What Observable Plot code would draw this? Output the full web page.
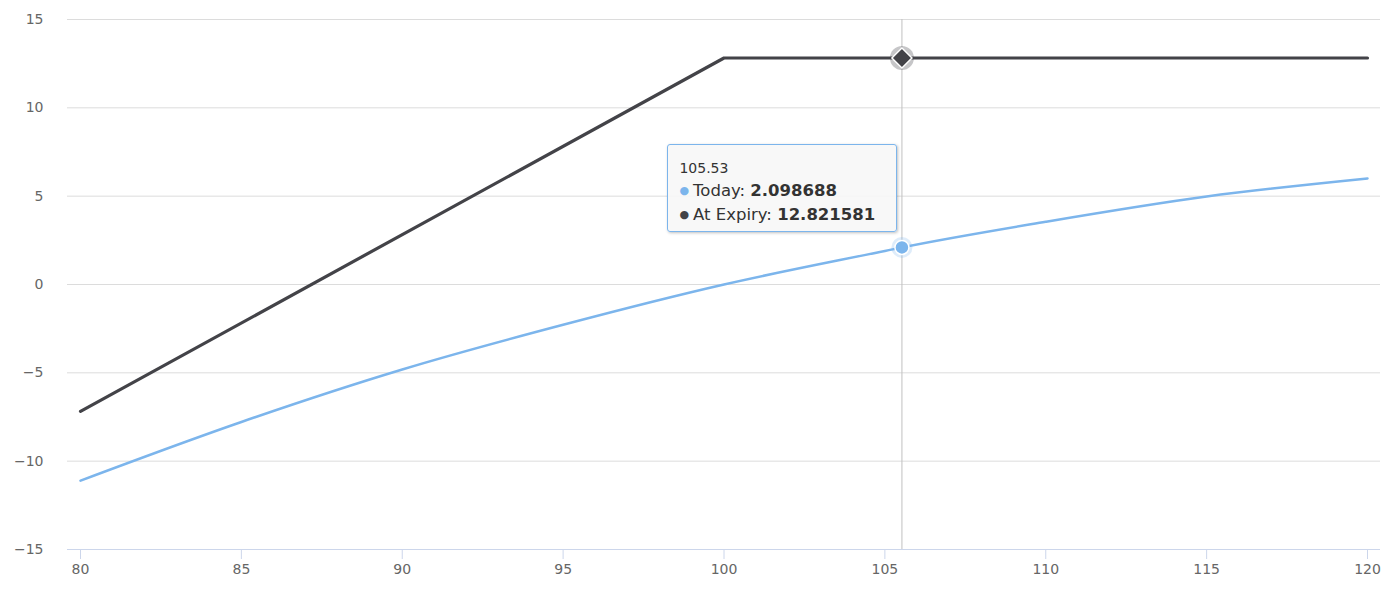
<!DOCTYPE html>
<html>
<head>
<meta charset="utf-8">
<script src="https://cdn.jsdelivr.net/npm/d3@7"></script>
<script src="https://cdn.jsdelivr.net/npm/@observablehq/plot@0.6"></script>
<style>
  html, body { margin: 0; padding: 0; background: #fff; }
  #wrap { position: relative; width: 1392px; height: 600px; font-family: "DejaVu Sans", sans-serif; }
  #tip {
    position: absolute; box-sizing: border-box; width: 230px; height: 88px;
    background: rgba(247,247,247,0.9); border: 1px solid #7cb5ec; border-radius: 3px;
    box-shadow: 1px 1px 3px rgba(0,0,0,0.25);
    padding: 15px 0 0 11px; color: #333; font-family: "DejaVu Sans", sans-serif;
  }
  #tip .hd { font-size: 14px; line-height: 17px; margin-bottom: 3px; }
  #tip .row { font-size: 16.5px; line-height: 22px; white-space: nowrap; }
  #tip .dot { font-size: 11px; position: relative; top: -2px; margin-right: 4px; }
</style>
</head>
<body>
<div id="wrap"></div>
<script>
// ---- data ----
const prices = [80, 85, 90, 95, 100, 105, 105.53, 110, 115, 120];
const todayValues = [-11.1, -7.78, -4.81, -2.28, 0.0, 1.90, 2.098688, 3.55, 4.98, 6.0];
const expiryPrices = [80, 100, 105.53, 120];
const expiryValues = [-7.178419, 12.821581, 12.821581, 12.821581];
const hoverPrice = 105.53;
const hoverToday = 2.098688;
const hoverExpiry = 12.821581;
const xTicks = [80, 85, 90, 95, 100, 105, 110, 115, 120];
const yTicks = [-15, -10, -5, 0, 5, 10, 15];

const today = prices.map((p, i) => ({x: p, y: todayValues[i]}));
const expiry = expiryPrices.map((p, i) => ({x: p, y: expiryValues[i]}));
const hover = [{x: hoverPrice, today: hoverToday, expiry: hoverExpiry}];
const fmt = d => d < 0 ? "\u2212" + Math.abs(d) : String(d);

const chart = Plot.plot({
  width: 1392,
  height: 600,
  marginLeft: 67,
  marginRight: 12,
  marginTop: 19,
  marginBottom: 51,
  style: {fontFamily: "DejaVu Sans, sans-serif", fontSize: "14px", color: "#666", background: "#fff"},
  x: {domain: [79.596, 120.404], label: null},
  y: {domain: [-15, 15], label: null},
  marks: [
    Plot.gridY(yTicks, {stroke: "#dcdcdc", strokeOpacity: 1, strokeWidth: 1}),
    Plot.ruleY([-15], {stroke: "#ccd6eb", strokeWidth: 1}),
    Plot.axisX(xTicks, {tickSize: 10, stroke: "#ccd6eb", strokeOpacity: 1, tickPadding: 5, fill: "#666", fontSize: 14, tickFormat: fmt}),
    Plot.axisY(yTicks, {tickSize: 0, tickPadding: 24, fill: "#666", fontSize: 14, tickFormat: fmt}),
    Plot.ruleX(hover, {x: "x", stroke: "#c0c0c0", strokeWidth: 1}),
    Plot.line(today, {x: "x", y: "y", stroke: "#7cb5ec", strokeWidth: 2.5, curve: "monotone-x"}),
    Plot.line(expiry, {x: "x", y: "y", stroke: "#434348", strokeWidth: 3.2, strokeLinejoin: "round", strokeLinecap: "round"}),
    Plot.dot(hover, {x: "x", y: "today", r: 10.5, fill: "#7cb5ec", fillOpacity: 0.25, stroke: "none"}),
    Plot.dot(hover, {x: "x", y: "today", r: 7, fill: "#7cb5ec", stroke: "#fff", strokeWidth: 1.5}),
    Plot.dot(hover, {x: "x", y: "expiry", r: 12, fill: "#434348", fillOpacity: 0.3, stroke: "none"}),
    Plot.dot(hover, {x: "x", y: "expiry", r: 9, symbol: "diamond2", fill: "#434348", stroke: "#fff", strokeWidth: 1.5})
  ]
});

const wrap = document.getElementById("wrap");
wrap.appendChild(chart);

const sx = chart.scale("x"), sy = chart.scale("y");
const tip = document.createElement("div");
tip.id = "tip";
tip.innerHTML =
  `<div class="hd">${hoverPrice}</div>` +
  `<div class="row"><span class="dot" style="color:#7cb5ec">\u25CF</span>Today: <b>${hoverToday}</b></div>` +
  `<div class="row"><span class="dot" style="color:#434348">\u25CF</span>At Expiry: <b>${hoverExpiry}</b></div>`;
tip.style.left = (sx.apply(hoverPrice) - 234) + "px";
tip.style.top = (sy.apply(hoverToday) - 103) + "px";
wrap.appendChild(tip);
</script>
</body>
</html>
